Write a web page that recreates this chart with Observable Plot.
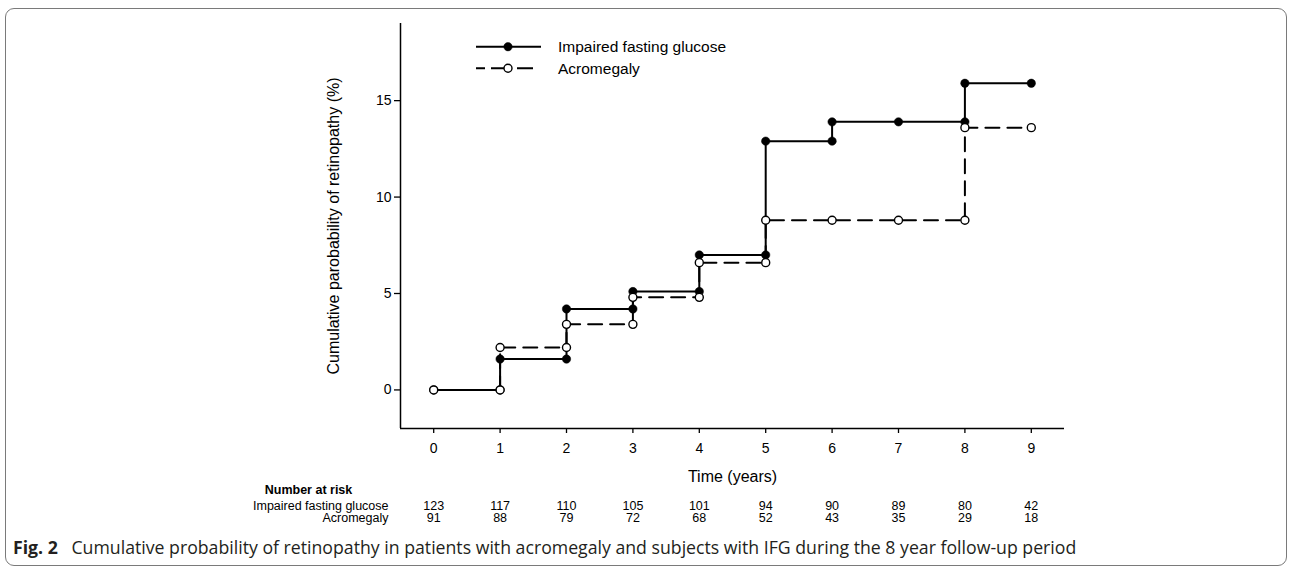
<!DOCTYPE html>
<html>
<head>
<meta charset="utf-8">
<script src="https://cdn.jsdelivr.net/npm/d3@7"></script>
<script src="https://cdn.jsdelivr.net/npm/@observablehq/plot@0.6"></script>
<style>
  html, body { margin: 0; padding: 0; background: #fff; }
  #wrap { position: relative; width: 1290px; height: 571px; overflow: hidden; font-family: "Liberation Sans", Arial, sans-serif; }
  #border { position: absolute; left: 5px; top: 8px; width: 1282px; height: 558px; border: 1.5px solid #7a7a7a; border-radius: 9px; box-sizing: border-box; }
  #chart { position: absolute; left: 0; top: 0; }
  #legend { position: absolute; left: 0; top: 0; }
  #caption { position: absolute; left: 13px; top: 535px; font-family: "Open Sans", sans-serif; font-size: 17.7px; color: #231f20; white-space: nowrap; }
  #caption b { font-weight: 700; margin-right: 9px; }
</style>
</head>
<body>
<div id="wrap">
  <div id="border"></div>
  <div id="chart"></div>
  <div id="legend"></div>
  <div id="caption"><b>Fig. 2</b> Cumulative probability of retinopathy in patients with acromegaly and subjects with IFG during the 8 year follow-up period</div>
</div>
<script>
// ---- data ----
const years = [0, 1, 2, 3, 4, 5, 6, 7, 8, 9];
const ifgValues = [0, 1.6, 4.2, 5.1, 7.0, 12.9, 13.9, 13.9, 15.9, 15.9];
const acroValues = [0, 2.2, 3.4, 4.8, 6.6, 8.8, 8.8, 8.8, 13.6, 13.6];
const ifgAtRisk = [123, 117, 110, 105, 101, 94, 90, 89, 80, 42];
const acroAtRisk = [91, 88, 79, 72, 68, 52, 43, 35, 29, 18];
const seriesNames = ["Impaired fasting glucose", "Acromegaly"];
const xTicks = [0, 1, 2, 3, 4, 5, 6, 7, 8, 9];
const yTicks = [0, 5, 10, 15];
const xDomain = [-0.5, 9.5];
const yDomain = [-2, 19];

// ---- derived tables ----
const stepData = (vals) => years.map((t, i) => ({t, v: vals[i]}));
const vertexData = (vals) => {
  const out = [];
  years.forEach((t, i) => {
    if (i > 0 && vals[i - 1] !== vals[i]) out.push({t, v: vals[i - 1]});
    out.push({t, v: vals[i]});
  });
  return out;
};
const ifgSteps = stepData(ifgValues);
const acroSteps = stepData(acroValues);
const ifgPts = vertexData(ifgValues);
const acroPts = vertexData(acroValues);
const ifgRisk = years.map((t, i) => ({t, n: ifgAtRisk[i]}));
const acroRisk = years.map((t, i) => ({t, n: acroAtRisk[i]}));

const FONT = '"Liberation Sans", Arial, sans-serif';

const plot = Plot.plot({
  width: 1290,
  height: 530,
  marginLeft: 400,
  marginRight: 226,
  marginTop: 23,
  marginBottom: 102,
  style: {fontFamily: FONT, fontSize: "14px", color: "#000", background: "transparent", overflow: "visible"},
  x: {domain: xDomain, axis: null},
  y: {domain: yDomain, axis: null},
  marks: [
    Plot.ruleX([xDomain[0]], {stroke: "#000", strokeWidth: 1.5}),
    Plot.ruleY([yDomain[0]], {stroke: "#000", strokeWidth: 1.5}),
    Plot.axisX({ticks: xTicks, tickSize: 5, tickPadding: 10, label: null, fontSize: 14, strokeWidth: 1.3}),
    Plot.axisY({ticks: yTicks, tickSize: 6, tickPadding: 3, label: null, fontSize: 14, strokeWidth: 1.3}),
    Plot.text(["Cumulative parobability of retinopathy (%)"], {frameAnchor: "left", rotate: -90, dx: -67, lineAnchor: "middle", textAnchor: "middle", fontSize: 16}),
    Plot.text(["Time (years)"], {frameAnchor: "bottom", dy: 48, lineAnchor: "middle", textAnchor: "middle", fontSize: 16}),
    // number at risk table
    Plot.text(["Number at risk"], {frameAnchor: "bottom-left", dx: -92, dy: 65.5, lineAnchor: "bottom", textAnchor: "middle", fontWeight: "bold", fontSize: 12.5}),
    Plot.text([seriesNames[0]], {frameAnchor: "bottom-left", dx: -12, dy: 81, lineAnchor: "bottom", textAnchor: "end", fontSize: 12.5}),
    Plot.text([seriesNames[1]], {frameAnchor: "bottom-left", dx: -12, dy: 93, lineAnchor: "bottom", textAnchor: "end", fontSize: 12.5}),
    Plot.text(ifgRisk, {x: "t", text: "n", frameAnchor: "bottom", dy: 81, lineAnchor: "bottom", textAnchor: "middle", fontSize: 12.5}),
    Plot.text(acroRisk, {x: "t", text: "n", frameAnchor: "bottom", dy: 93, lineAnchor: "bottom", textAnchor: "middle", fontSize: 12.5}),
    // series
    Plot.line(ifgSteps, {x: "t", y: "v", curve: "step-after", stroke: "#000", strokeWidth: 2}),
    Plot.dot(ifgPts, {x: "t", y: "v", r: 4.2, fill: "#000", stroke: "#000", strokeWidth: 0.5}),
    Plot.line(acroSteps, {x: "t", y: "v", curve: "step-after", stroke: "#000", strokeWidth: 2, strokeDasharray: "14,8"}),
    Plot.dot(acroPts, {x: "t", y: "v", r: 4, fill: "#fff", stroke: "#000", strokeWidth: 1.4})
  ]
});
document.getElementById("chart").appendChild(plot);

// ---- legend ----
const leg = d3.select("#legend").append("svg").attr("width", 800).attr("height", 90)
  .style("font-family", FONT).style("overflow", "visible");
const rows = [
  {name: seriesNames[0], y: 46.7, dash: null, fill: "#000"},
  {name: seriesNames[1], y: 68.3, dash: "9,6,20,6,16", fill: "#fff"}
];
rows.forEach(r => {
  leg.append("line").attr("x1", 476).attr("x2", 541).attr("y1", r.y).attr("y2", r.y)
    .attr("stroke", "#000").attr("stroke-width", 2).attr("stroke-dasharray", r.dash);
  leg.append("circle").attr("cx", 508).attr("cy", r.y).attr("r", r.fill === "#000" ? 4.2 : 4)
    .attr("fill", r.fill).attr("stroke", "#000").attr("stroke-width", r.fill === "#000" ? 0.5 : 1.4);
  leg.append("text").attr("x", 558).attr("y", r.y).attr("dy", "0.35em")
    .attr("font-size", 15.5).text(r.name);
});
</script>
</body>
</html>
